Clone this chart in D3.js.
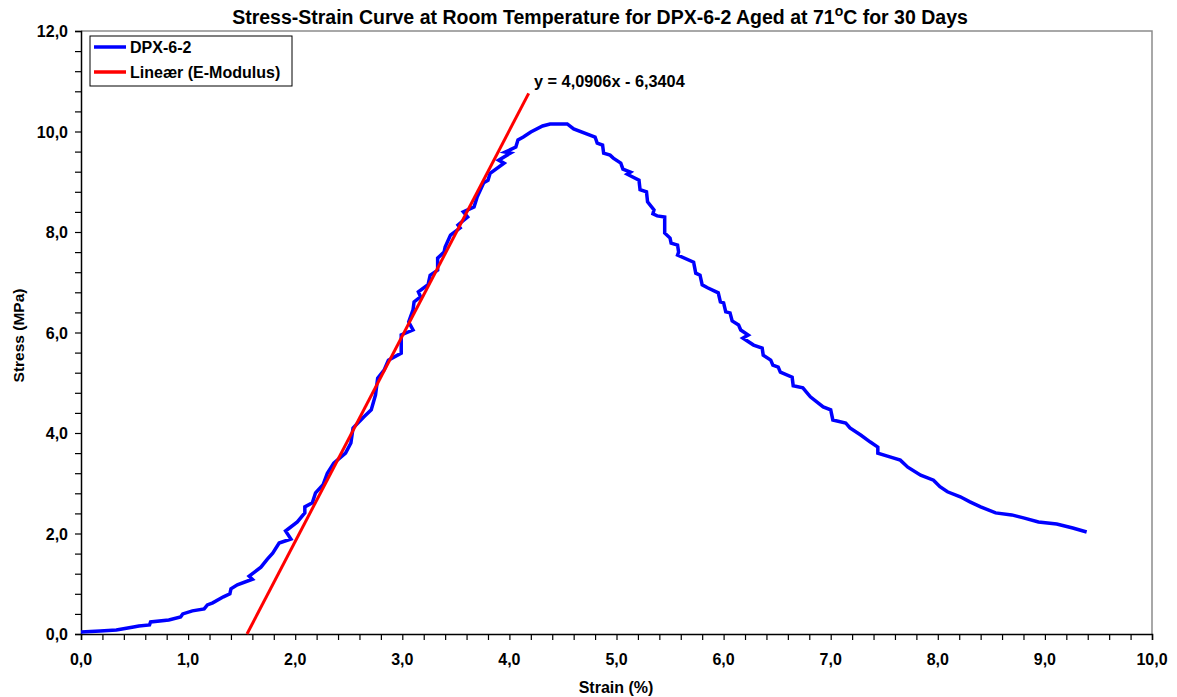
<!DOCTYPE html>
<html>
<head>
<meta charset="utf-8">
<script src="https://cdn.jsdelivr.net/npm/d3@7"></script>
<style>
	body { margin: 0; background: #fff; }
	svg text { font-family: "Liberation Sans", Arial, sans-serif; font-weight: bold; fill: #000; }
</style>
</head>
<body>
<svg width="1177" height="697"></svg>
<script>
// measured strain (%) / stress (MPa) pairs for DPX-6-2
const strain = [0.00, 0.18, 0.33, 0.49, 0.54, 0.64, 0.65, 0.82, 0.93, 0.95, 1.04, 1.15, 1.18, 1.23, 1.33, 1.39, 1.40, 1.46, 1.60, 1.57,
	1.62, 1.68, 1.74, 1.79, 1.85, 1.96, 1.91, 2.02, 2.09, 2.09, 2.16, 2.19, 2.26, 2.30, 2.36, 2.47, 2.52, 2.54, 2.64, 2.71,
	2.75, 2.77, 2.83, 2.87, 2.99, 2.99, 3.10, 3.06, 3.10, 3.11, 3.17, 3.15, 3.24, 3.26, 3.33, 3.33, 3.39, 3.40, 3.45, 3.54,
	3.52, 3.61, 3.57, 3.67, 3.70, 3.76, 3.80, 3.82, 3.95, 3.90, 4.01, 3.96, 4.06, 4.08, 4.13, 4.20, 4.31, 4.38, 4.54, 4.60,
	4.80, 4.82, 4.87, 4.88, 4.94, 4.97, 5.04, 5.06, 5.13, 5.10, 5.21, 5.22, 5.28, 5.29, 5.35, 5.34, 5.38, 5.45, 5.45, 5.50,
	5.51, 5.57, 5.58, 5.57, 5.72, 5.74, 5.78, 5.80, 5.85, 5.95, 5.97, 6.00, 6.02, 6.06, 6.08, 6.14, 6.16, 6.23, 6.18, 6.28,
	6.36, 6.37, 6.44, 6.46, 6.51, 6.53, 6.64, 6.65, 6.74, 6.81, 6.87, 6.93, 7.00, 7.02, 7.14, 7.18, 7.28, 7.37, 7.44, 7.44,
	7.56, 7.65, 7.72, 7.84, 7.96, 8.02, 8.09, 8.21, 8.30, 8.40, 8.54, 8.69, 8.80, 8.94, 9.11, 9.26, 9.39];
const stress = [0.04, 0.06, 0.08, 0.14, 0.16, 0.18, 0.24, 0.28, 0.34, 0.40, 0.46, 0.50, 0.58, 0.62, 0.74, 0.80, 0.90, 0.98, 1.09, 1.15,
	1.23, 1.33, 1.49, 1.61, 1.81, 1.89, 2.05, 2.23, 2.41, 2.53, 2.61, 2.81, 2.97, 3.20, 3.40, 3.60, 3.80, 4.10, 4.32, 4.46,
	4.76, 5.09, 5.25, 5.45, 5.59, 5.95, 6.05, 6.21, 6.45, 6.61, 6.71, 6.81, 6.95, 7.14, 7.24, 7.48, 7.60, 7.70, 7.94, 8.08,
	8.14, 8.30, 8.40, 8.50, 8.70, 8.98, 9.03, 9.17, 9.37, 9.43, 9.57, 9.59, 9.69, 9.83, 9.89, 9.99, 10.11, 10.15, 10.15, 10.05,
	9.89, 9.77, 9.73, 9.57, 9.53, 9.47, 9.37, 9.25, 9.19, 9.15, 9.03, 8.84, 8.80, 8.60, 8.44, 8.36, 8.32, 8.30, 7.98, 7.88,
	7.78, 7.74, 7.60, 7.54, 7.40, 7.18, 7.14, 6.95, 6.89, 6.79, 6.61, 6.59, 6.41, 6.39, 6.23, 6.15, 6.05, 5.95, 5.89, 5.75,
	5.69, 5.55, 5.45, 5.35, 5.31, 5.21, 5.11, 4.94, 4.90, 4.72, 4.62, 4.52, 4.46, 4.26, 4.20, 4.10, 3.96, 3.82, 3.72, 3.60,
	3.52, 3.46, 3.32, 3.16, 3.06, 2.93, 2.83, 2.73, 2.63, 2.53, 2.41, 2.37, 2.31, 2.23, 2.19, 2.11, 2.03];

// linear fit (E-modulus) and where it is drawn
const fitSlope = 4.0906;
const fitIntercept = -6.3404;
const fitEnd = 4.18;

const xTicks = [0, 1, 2, 3, 4, 5, 6, 7, 8, 9, 10];
const yTicks = [0, 2, 4, 6, 8, 10, 12];
const seriesNames = ["DPX-6-2", "Lineær (E-Modulus)"];
const seriesColors = ["#0000ff", "#ff0000"];

class Chart {
	constructor() {
		this.svg = d3.select("svg");
		this.left = 81;
		this.right = 1152;
		this.top = 31;
		this.bottom = 634;
		this.fmt = (v) => d3.format(".1f")(v).replace(".", ",");
		this.initScales();
		this.initFrame();
		this.initAxes();
		this.initLines();
		this.initLegend();
		this.initTexts();
	}

	initScales() {
		this.x = d3.scaleLinear().domain([0, 10]).range([this.left, this.right]);
		this.y = d3.scaleLinear().domain([0, 12]).range([this.bottom, this.top]);
	}

	initFrame() {
		// grey plot-area border on top and right
		this.svg.append("path")
			.attr("d", "M" + this.left + "," + this.top + "H" + this.right + "V" + this.bottom)
			.attr("fill", "none")
			.attr("stroke", "#8c8c8c")
			.attr("stroke-width", 1.5);
	}

	initAxes() {
		var minorX = d3.range(0, 10.001, 0.2);
		var minorY = d3.range(0, 12.001, 0.4);

		var xAxis = this.svg.append("g")
			.attr("transform", "translate(0," + this.bottom + ")")
			.call(d3.axisBottom(this.x).tickValues(minorX).tickSize(6).tickFormat(""));
		var yAxis = this.svg.append("g")
			.attr("transform", "translate(" + this.left + ",0)")
			.call(d3.axisLeft(this.y).tickValues(minorY).tickSize(6).tickFormat(""));

		[xAxis, yAxis].forEach((g) => {
			g.select(".domain").attr("stroke", "#000").attr("stroke-width", 1.5);
			g.selectAll(".tick line").attr("stroke", "#000").attr("stroke-width", 1.2);
		});

		this.svg.append("g").selectAll("text")
			.data(xTicks)
			.enter().append("text")
			.attr("x", (d) => this.x(d))
			.attr("y", this.bottom + 31)
			.attr("text-anchor", "middle")
			.attr("font-size", 16)
			.text((d) => this.fmt(d));

		this.svg.append("g").selectAll("text")
			.data(yTicks)
			.enter().append("text")
			.attr("x", this.left - 13)
			.attr("y", (d) => this.y(d) + 6)
			.attr("text-anchor", "end")
			.attr("font-size", 16)
			.text((d) => this.fmt(d));
	}

	initLines() {
		var points = strain.map((s, i) => [s, stress[i]]);
		var line = d3.line()
			.x((d) => this.x(d[0]))
			.y((d) => this.y(d[1]));

		this.svg.append("path")
			.datum(points)
			.attr("d", line)
			.attr("fill", "none")
			.attr("stroke", seriesColors[0])
			.attr("stroke-width", 3.5)
			.attr("stroke-linejoin", "miter");

		var fitStart = -fitIntercept / fitSlope;
		var fit = [fitStart, fitEnd].map((s) => [s, fitSlope * s + fitIntercept]);
		this.svg.append("path")
			.datum(fit)
			.attr("d", line)
			.attr("fill", "none")
			.attr("stroke", seriesColors[1])
			.attr("stroke-width", 3);
	}

	initLegend() {
		var legend = this.svg.append("g").attr("transform", "translate(90,36)");
		legend.append("rect")
			.attr("width", 202)
			.attr("height", 50)
			.attr("fill", "#fff")
			.attr("stroke", "#000")
			.attr("stroke-width", 1);

		var items = legend.selectAll("g")
			.data(seriesNames)
			.enter().append("g")
			.attr("transform", (d, i) => "translate(0," + (11 + i * 25) + ")");
		items.append("line")
			.attr("x1", 4)
			.attr("x2", 36)
			.attr("stroke", (d, i) => seriesColors[i])
			.attr("stroke-width", 3.5);
		items.append("text")
			.attr("x", 40)
			.attr("y", 6)
			.attr("font-size", 16)
			.text((d) => d);
	}

	initTexts() {
		var title = this.svg.append("text")
			.attr("x", 600)
			.attr("y", 24)
			.attr("text-anchor", "middle")
			.attr("font-size", 19.5);
		title.append("tspan").text("Stress-Strain Curve at Room Temperature for DPX-6-2 Aged at 71");
		title.append("tspan").attr("dy", -8).attr("font-size", 14).text("o");
		title.append("tspan").attr("dy", 8).text("C for 30 Days");

		this.svg.append("text")
			.attr("x", 534)
			.attr("y", 87)
			.attr("font-size", 16.3)
			.text("y = " + this.fmt4(fitSlope) + "x - " + this.fmt4(-fitIntercept));

		this.svg.append("text")
			.attr("x", 616)
			.attr("y", 693)
			.attr("text-anchor", "middle")
			.attr("font-size", 16)
			.text("Strain (%)");

		this.svg.append("text")
			.attr("transform", "translate(24," + ((this.top + this.bottom) / 2 + 3) + ") rotate(-90)")
			.attr("text-anchor", "middle")
			.attr("font-size", 15.5)
			.text("Stress (MPa)");
	}

	fmt4(v) {
		return d3.format(".4f")(v).replace(".", ",");
	}
}

new Chart();
</script>
</body>
</html>
